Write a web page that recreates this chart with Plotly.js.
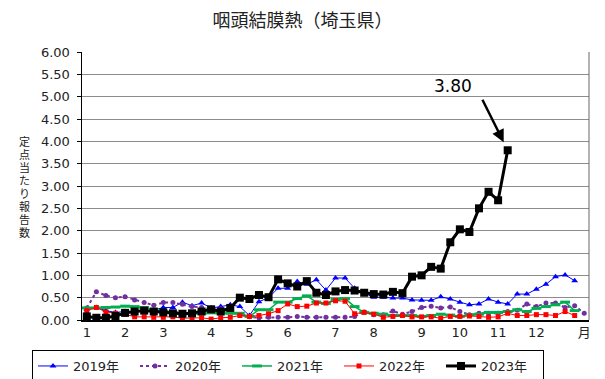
<!DOCTYPE html>
<html>
<head>
<meta charset="utf-8">
<script src="https://cdn.plot.ly/plotly-3.0.1.min.js"></script>
<style>
html,body{margin:0;padding:0;background:#fff;}
#chart{width:605px;height:379px;}
</style>
</head>
<body>
<div id="chart"></div>
<script>
// Week numbers (1..53) and month tick labels
const monthTickWeeks = [1, 5, 9, 14, 18, 22, 27, 31, 36, 40, 44, 48, 53];
const monthTickText = ['1','2','3','4','5','6','7','8','9','10','11','12','月'];

const seriesNames = ['2019年','2020年','2021年','2022年','2023年'];
const chartTitle = '咽頭結膜熱（埼玉県）';
const yTitle = '定点当たり報告数';

const v2019 = [0.24,0.28,0.21,0.17,0.19,0.20,0.22,0.22,0.28,0.28,0.40,0.32,0.38,0.27,0.30,0.34,0.30,0.10,0.41,0.50,
  0.71,0.71,0.86,0.80,0.90,0.67,0.94,0.94,0.71,0.60,0.51,0.51,0.49,0.49,0.45,0.44,0.44,0.52,0.47,0.40,
  0.34,0.36,0.47,0.40,0.36,0.58,0.58,0.69,0.80,0.97,1.01,0.88];
const v2020 = [0.27,0.63,0.55,0.50,0.52,0.45,0.39,0.33,0.39,0.39,0.35,0.30,0.28,0.25,0.25,0.20,0.12,0.07,0.05,0.06,
  0.06,0.06,0.08,0.06,0.06,0.06,0.06,0.06,0.08,0.18,0.12,0.12,0.20,0.13,0.19,0.28,0.31,0.27,0.29,0.19,
  0.12,0.15,0.15,0.15,0.19,0.22,0.36,0.30,0.38,0.38,0.28,0.32,0.15];
const v2021 = [0.27,0.27,0.28,0.29,0.31,0.30,0.28,0.23,0.19,0.17,0.14,0.15,0.15,0.16,0.16,0.15,0.15,0.08,0.23,0.23,
  0.40,0.40,0.48,0.54,0.40,0.37,0.46,0.48,0.30,0.17,0.15,0.13,0.10,0.10,0.10,0.08,0.10,0.13,0.11,0.08,
  0.12,0.13,0.17,0.17,0.19,0.23,0.19,0.26,0.30,0.34,0.40,0.21];
const v2022 = [0.21,0.28,0.18,0.15,0.13,0.07,0.07,0.06,0.06,0.07,0.04,0.05,0.05,0.02,0.05,0.06,0.10,0.08,0.10,0.14,
  0.21,0.36,0.30,0.31,0.38,0.38,0.43,0.42,0.14,0.17,0.13,0.06,0.08,0.10,0.07,0.07,0.07,0.04,0.08,0.08,
  0.09,0.08,0.06,0.07,0.15,0.10,0.10,0.12,0.12,0.10,0.19,0.10];
const v2023 = [0.08,0.05,0.05,0.09,0.16,0.19,0.21,0.19,0.17,0.15,0.14,0.15,0.19,0.24,0.19,0.27,0.50,0.47,0.56,0.51,
  0.91,0.82,0.75,0.87,0.61,0.56,0.64,0.67,0.66,0.61,0.58,0.57,0.63,0.60,0.97,1.00,1.19,1.15,1.74,2.03,
  1.97,2.50,2.87,2.68,3.80];

const weeks = n => Array.from({length:n}, (_, i) => i + 1);

const FONT = 'DejaVu Sans, "Noto Sans CJK JP", sans-serif';
const CJK = '"Noto Sans CJK JP", sans-serif';

const traces = [
  {x: weeks(v2019.length), y: v2019, name: seriesNames[0], type:'scatter', mode:'lines+markers',
   line:{color:'#0000FF', width:1}, marker:{symbol:'triangle-up', size:6, color:'#0000FF'}},
  {x: weeks(v2020.length), y: v2020, name: seriesNames[1], type:'scatter', mode:'lines+markers',
   line:{color:'#7030A0', width:2, dash:'dot'}, marker:{symbol:'circle', size:5, color:'#7030A0'}},
  {x: weeks(v2021.length), y: v2021, name: seriesNames[2], type:'scatter', mode:'lines+markers',
   line:{color:'#00B050', width:1.5}, marker:{symbol:'line-ew', size:7, color:'#00B050', line:{color:'#00B050', width:3}}},
  {x: weeks(v2022.length), y: v2022, name: seriesNames[3], type:'scatter', mode:'lines+markers',
   line:{color:'#FF0000', width:1}, marker:{symbol:'square', size:5, color:'#FF0000'}},
  {x: weeks(v2023.length), y: v2023, name: seriesNames[4], type:'scatter', mode:'lines+markers',
   line:{color:'#000000', width:3}, marker:{symbol:'square', size:8, color:'#000000'}}
];

const lastW = v2023.length;
const lastV = v2023[lastW - 1];

// vertical (upright) y-axis title, one character per line
const yTitleChars = Array.from(yTitle);
const charPitch = 13;
const yTitleAnnots = yTitleChars.map((ch, i) => ({
  xref:'paper', yref:'paper', x:-0.114, y:0.5, xanchor:'center', yanchor:'middle', showarrow:false,
  yshift: ((yTitleChars.length - 1) / 2 - i) * charPitch, height:13, borderpad:0,
  text: ch, font:{family:CJK, size:11, color:'#222'}
}));

const layout = {
  width:605, height:379,
  margin:{l:82, r:16, t:52, b:59, autoexpand:false},
  paper_bgcolor:'#fff', plot_bgcolor:'#fff',
  font:{family:FONT, size:13, color:'#222'},
  title:{text:chartTitle, font:{family:CJK, size:18, color:'#222'},
         x:0.5, xanchor:'center', y:0.945, yanchor:'middle', yref:'container'},
  showlegend:true,
  legend:{orientation:'h', x:-0.0986, xanchor:'left', y:-0.112, yanchor:'top',
          bordercolor:'#000', borderwidth:1, font:{family:FONT, size:13, color:'#222'},
          entrywidth:57, entrywidthmode:'pixels', tracegroupgap:0, itemwidth:30},
  xaxis:{range:[0.5, 53.5], tickmode:'array', tickvals:monthTickWeeks, ticktext:monthTickText,
         showgrid:false, zeroline:false, showline:true, linecolor:'#000', linewidth:1.5,
         ticks:'', tickfont:{family:FONT, size:13, color:'#222'}},
  yaxis:{range:[0, 6], dtick:0.5, tick0:0, tickformat:'.2f', showgrid:true, gridcolor:'#8c8c8c', gridwidth:1,
         zeroline:false, showline:true, linecolor:'#000', linewidth:1.5, ticks:'outside', ticklen:4, tickcolor:'#000',
         ticklabelstandoff:4, tickfont:{family:FONT, size:13, color:'#222'}},
  shapes:[{type:'line', xref:'paper', yref:'paper', x0:1, x1:1, y0:0, y1:1, line:{color:'#666', width:1}}],
  annotations: yTitleAnnots.concat([
    {x:lastW, y:lastV, xref:'x', yref:'y', text:'', showarrow:true, arrowhead:2, arrowsize:1, arrowwidth:2.5,
     arrowcolor:'#000', ax:-26, ay:-52, standoff:9},
    {x:lastW, y:lastV, xref:'x', yref:'y', text:lastV.toFixed(2), showarrow:false, xshift:-55, yshift:64,
     font:{family:FONT, size:17, color:'#000'}}
  ])
};

Plotly.newPlot('chart', traces, layout, {staticPlot:true, displayModeBar:false});
</script>
</body>
</html>
